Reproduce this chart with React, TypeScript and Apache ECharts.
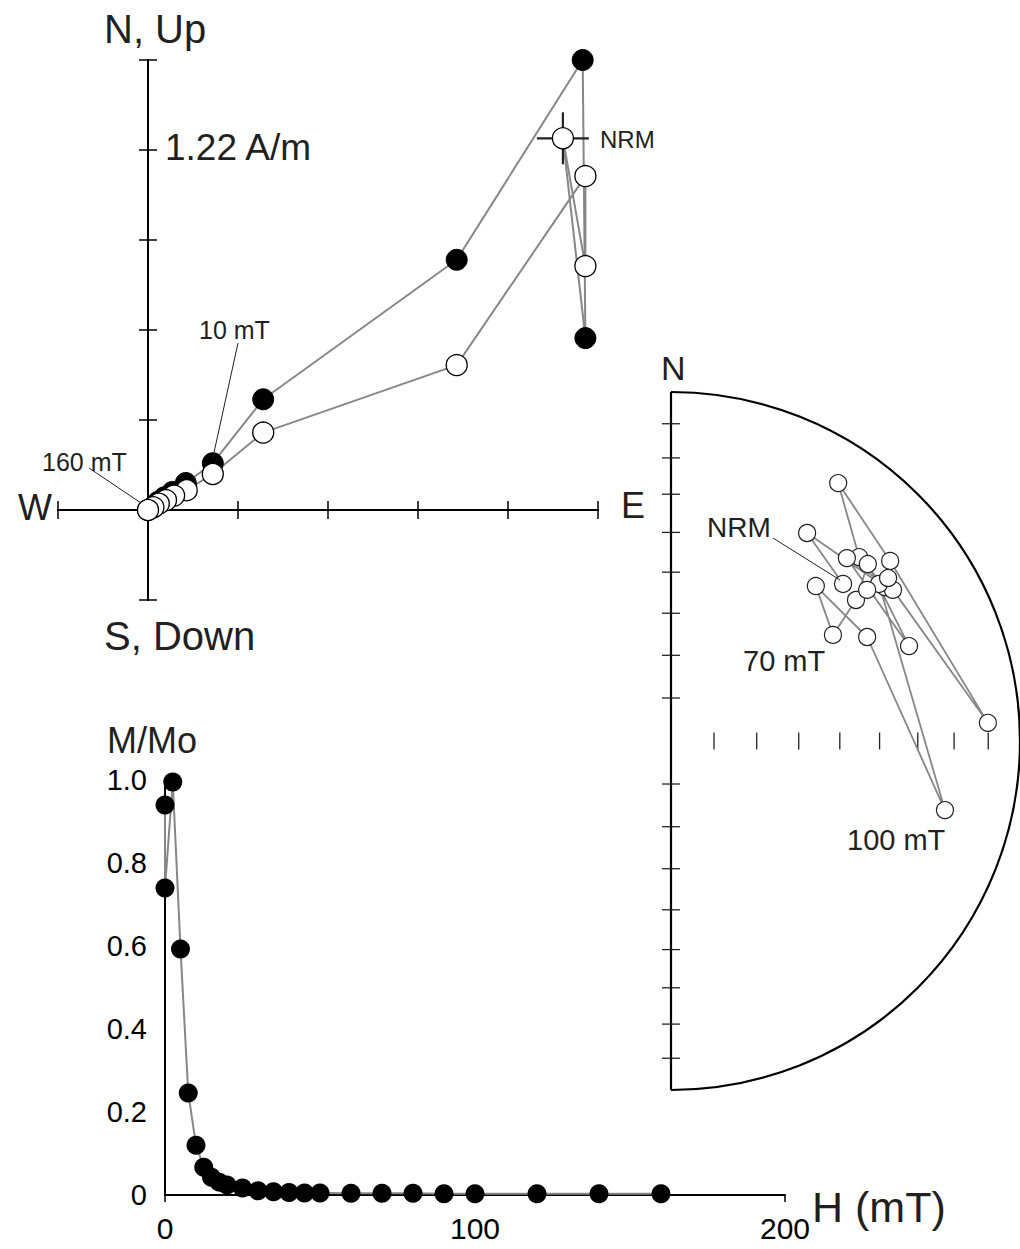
import React, { useEffect, useRef } from "react";
import * as echarts from "echarts";

// ---------- Zijderveld diagram (1 axis tick = 1 unit) ----------
// Horizontal projection (solid symbols): [E, N]
const zijHorizontal: [number, number][] = [
  [4.86, 1.91],
  [4.83, 5.0],
  [3.43, 2.78],
  [1.28, 1.23],
  [0.72, 0.52],
  [0.42, 0.3],
  [0.27, 0.2],
  [0.18, 0.14],
  [0.11, 0.09],
  [0.06, 0.04],
  [0, 0],
];
// Vertical projection (open symbols): [E, Up]
const zijVertical: [number, number][] = [
  [4.61, 4.13],
  [4.86, 2.71],
  [4.86, 3.71],
  [3.43, 1.61],
  [1.28, 0.86],
  [0.72, 0.4],
  [0.43, 0.22],
  [0.29, 0.16],
  [0.2, 0.11],
  [0.12, 0.07],
  [0.06, 0.03],
  [0, 0],
];
const zijNrmLink: [number, number][] = [
  [4.61, 4.13],
  [4.86, 1.91],
];

// ---------- Equal-area projection (unit radius) ----------
const stereoPoints: [number, number][] = [
  [0.493, 0.45],
  [0.39, 0.596],
  [0.613, 0.441],
  [0.539, 0.527],
  [0.479, 0.739],
  [0.628, 0.516],
  [0.908, 0.052],
  [0.636, 0.433],
  [0.504, 0.524],
  [0.682, 0.272],
  [0.564, 0.507],
  [0.53, 0.404],
  [0.464, 0.304],
  [0.415, 0.444],
  [0.562, 0.298],
  [0.785, -0.198],
  [0.596, 0.45],
  [0.562, 0.433],
  [0.622, 0.467],
];
const stereoTickInc = [80, 70, 60, 50, 40, 30, 20, 10];

// ---------- Demagnetisation curve ----------
const demagField = [0, 0, 2.5, 5, 7.5, 10, 12.5, 15, 17.5, 20, 25, 30, 35, 40, 45, 50, 60, 70, 80, 90, 100, 120, 140, 160];
const demagM = [0.94, 0.74, 0.995, 0.593, 0.246, 0.12, 0.067, 0.043, 0.031, 0.024, 0.017, 0.01, 0.008, 0.006, 0.005, 0.005, 0.004, 0.004, 0.004, 0.003, 0.003, 0.003, 0.003, 0.003];
const demagXTicks = [0, 100, 200];
const demagYTicks = [0, 0.2, 0.4, 0.6, 0.8, 1.0];

const FONT = "'Liberation Sans', Arial, Helvetica, sans-serif";
const TXT = "#231f20";
const GRAY = "#878787";

// equal-area radius for an inclination
const eaRadius = (inc: number) => Math.SQRT2 * Math.sin(((90 - inc) / 2) * (Math.PI / 180));

export default function App() {
  const ref = useRef<HTMLDivElement>(null);

  useEffect(() => {
    if (!ref.current) return;
    const chart = echarts.init(ref.current, undefined, { renderer: "svg" });

    const zijAxisCommon = (pos: string) => ({
      type: "value",
      gridIndex: 0,
      min: -1,
      max: 5,
      interval: 1,
      position: pos,
      axisLine: { show: true, onZero: true, lineStyle: { color: "#000", width: 2 } },
      axisTick: { show: true, length: 9, lineStyle: { color: "#000", width: 1.5 } },
      axisLabel: { show: false },
      splitLine: { show: false },
    });

    const stereoVTicks: [number, number][] = [];
    const stereoHTicks: [number, number][] = [];
    stereoTickInc.forEach((inc) => {
      const r = eaRadius(inc);
      stereoVTicks.push([0, r], [0, -r]);
      stereoHTicks.push([r, 0]);
    });

    const SC = 671,
      SY = 741,
      SR = 349;

    const text = (x: number, y: number, s: string, size: number, extra: any = {}) => ({
      type: "text",
      x,
      y,
      style: {
        text: s,
        fill: TXT,
        font: `${size}px ${FONT}`,
        textVerticalAlign: "middle",
        ...extra,
      },
      z: 50,
    });
    const line = (x1: number, y1: number, x2: number, y2: number, w = 1) => ({
      type: "line",
      shape: { x1, y1, x2, y2 },
      style: { stroke: TXT, lineWidth: w },
      z: 40,
    });

    chart.setOption({
      animation: false,
      backgroundColor: "#fff",
      grid: [
        { left: 58, top: 60, width: 540, height: 540 },
        { left: SC - SR, top: SY - SR, width: 2 * SR, height: 2 * SR },
        { left: 165, top: 780, width: 620, height: 415 },
      ],
      xAxis: [
        zijAxisCommon("bottom"),
        zijAxisCommon("top"),
        { type: "value", gridIndex: 1, min: -1, max: 1, show: false },
        {
          type: "value",
          gridIndex: 2,
          min: 0,
          max: 200,
          interval: 100,
          axisLine: { show: true, onZero: false, lineStyle: { color: "#000", width: 2 } },
          axisTick: { show: true, length: 7, customValues: [demagXTicks[0], demagXTicks[2]], lineStyle: { color: "#000", width: 1.5 } },
          axisLabel: { show: true, fontSize: 30, color: "#000", fontFamily: FONT, margin: 18, customValues: demagXTicks },
          splitLine: { show: false },
        },
      ],
      yAxis: [
        zijAxisCommon("left"),
        zijAxisCommon("right"),
        { type: "value", gridIndex: 1, min: -1, max: 1, show: false },
        {
          type: "value",
          gridIndex: 2,
          min: 0,
          max: 1,
          interval: 0.2,
          axisLine: { show: true, onZero: false, lineStyle: { color: "#000", width: 2 } },
          axisTick: { show: false },
          axisLabel: {
            show: true,
            fontSize: 29,
            color: "#000",
            fontFamily: FONT,
            margin: 18,
            customValues: demagYTicks,
            formatter: (v: number) => (v === 0 ? "0" : v.toFixed(1)),
          },
          splitLine: { show: false },
        },
      ],
      series: [
        // Zijderveld lines
        { type: "line", xAxisIndex: 0, yAxisIndex: 0, data: zijHorizontal, symbol: "none", lineStyle: { color: GRAY, width: 2 }, z: 2 },
        { type: "line", xAxisIndex: 0, yAxisIndex: 0, data: zijVertical, symbol: "none", lineStyle: { color: GRAY, width: 2 }, z: 2 },
        { type: "line", xAxisIndex: 0, yAxisIndex: 0, data: zijNrmLink, symbol: "none", lineStyle: { color: GRAY, width: 2 }, z: 2 },
        // NRM cross
        { type: "scatter", xAxisIndex: 0, yAxisIndex: 0, data: [zijVertical[0]], symbol: "rect", symbolSize: [52, 2.2], itemStyle: { color: "#222", opacity: 1 }, z: 3 },
        { type: "scatter", xAxisIndex: 0, yAxisIndex: 0, data: [zijVertical[0]], symbol: "rect", symbolSize: [2.2, 52], itemStyle: { color: "#222", opacity: 1 }, z: 3 },
        // Zijderveld symbols
        { type: "scatter", xAxisIndex: 0, yAxisIndex: 0, data: zijHorizontal, symbol: "circle", symbolSize: 21, itemStyle: { color: "#000", borderColor: "#000", borderWidth: 1, opacity: 1 }, z: 4 },
        { type: "scatter", xAxisIndex: 0, yAxisIndex: 0, data: zijVertical, symbol: "circle", symbolSize: 21, itemStyle: { color: "#fff", borderColor: "#000", borderWidth: 1.3, opacity: 1 }, z: 5 },
        // Stereonet ticks
        { type: "scatter", xAxisIndex: 2, yAxisIndex: 2, data: stereoVTicks, symbol: "rect", symbolSize: [18, 1.3], itemStyle: { color: "#222", opacity: 1 }, z: 2 },
        { type: "scatter", xAxisIndex: 2, yAxisIndex: 2, data: stereoHTicks, symbol: "rect", symbolSize: [1.3, 17], itemStyle: { color: "#222", opacity: 1 }, z: 2 },
        // Stereonet path & points
        { type: "line", xAxisIndex: 2, yAxisIndex: 2, data: stereoPoints, symbol: "none", lineStyle: { color: GRAY, width: 1.8 }, z: 3 },
        { type: "scatter", xAxisIndex: 2, yAxisIndex: 2, data: stereoPoints, symbol: "circle", symbolSize: 17, itemStyle: { color: "#fff", borderColor: "#222", borderWidth: 1.2, opacity: 1 }, z: 4 },
        // Demag curve
        {
          type: "line",
          xAxisIndex: 3,
          yAxisIndex: 3,
          data: demagField.map((h, i) => [h, demagM[i]]),
          symbol: "circle",
          symbolSize: 19,
          showSymbol: true,
          itemStyle: { color: "#000", opacity: 1 },
          lineStyle: { color: GRAY, width: 2 },
          z: 3,
        },
      ],
      graphic: [
        // stereonet frame
        { type: "line", shape: { x1: SC, y1: SY - SR, x2: SC, y2: SY + SR }, style: { stroke: "#000", lineWidth: 2.2 }, z: 30 },
        {
          type: "arc",
          shape: { cx: SC, cy: SY, r: SR, startAngle: -Math.PI / 2, endAngle: Math.PI / 2, clockwise: true },
          style: { stroke: "#000", lineWidth: 2.2, fill: "none" },
          z: 30,
        },
        // Zijderveld labels
        text(104, 29, "N, Up", 40),
        text(165, 147, "1.22 A/m", 37),
        text(18, 507, "W", 36),
        text(621, 505, "E", 36),
        text(104, 636, "S, Down", 40),
        text(199, 330, "10 mT", 25),
        line(238, 343, 213, 457),
        text(42, 462, "160 mT", 25),
        line(89, 468, 141, 503),
        text(600, 139, "NRM", 24),
        // stereonet labels
        text(661, 368, "N", 34),
        text(707, 527, "NRM", 28),
        line(773, 538, 840, 580),
        text(743, 661, "70 mT", 29),
        text(847, 840, "100 mT", 29),
        // demag labels
        text(107, 740, "M/Mo", 36),
        text(812, 1207, "H (mT)", 43),
      ],
    });

    return () => chart.dispose();
  }, []);

  return (
    <div
      ref={ref}
      style={{ position: "absolute", left: 0, top: 0, width: 1020, height: 1249, background: "#fff" }}
    />
  );
}
